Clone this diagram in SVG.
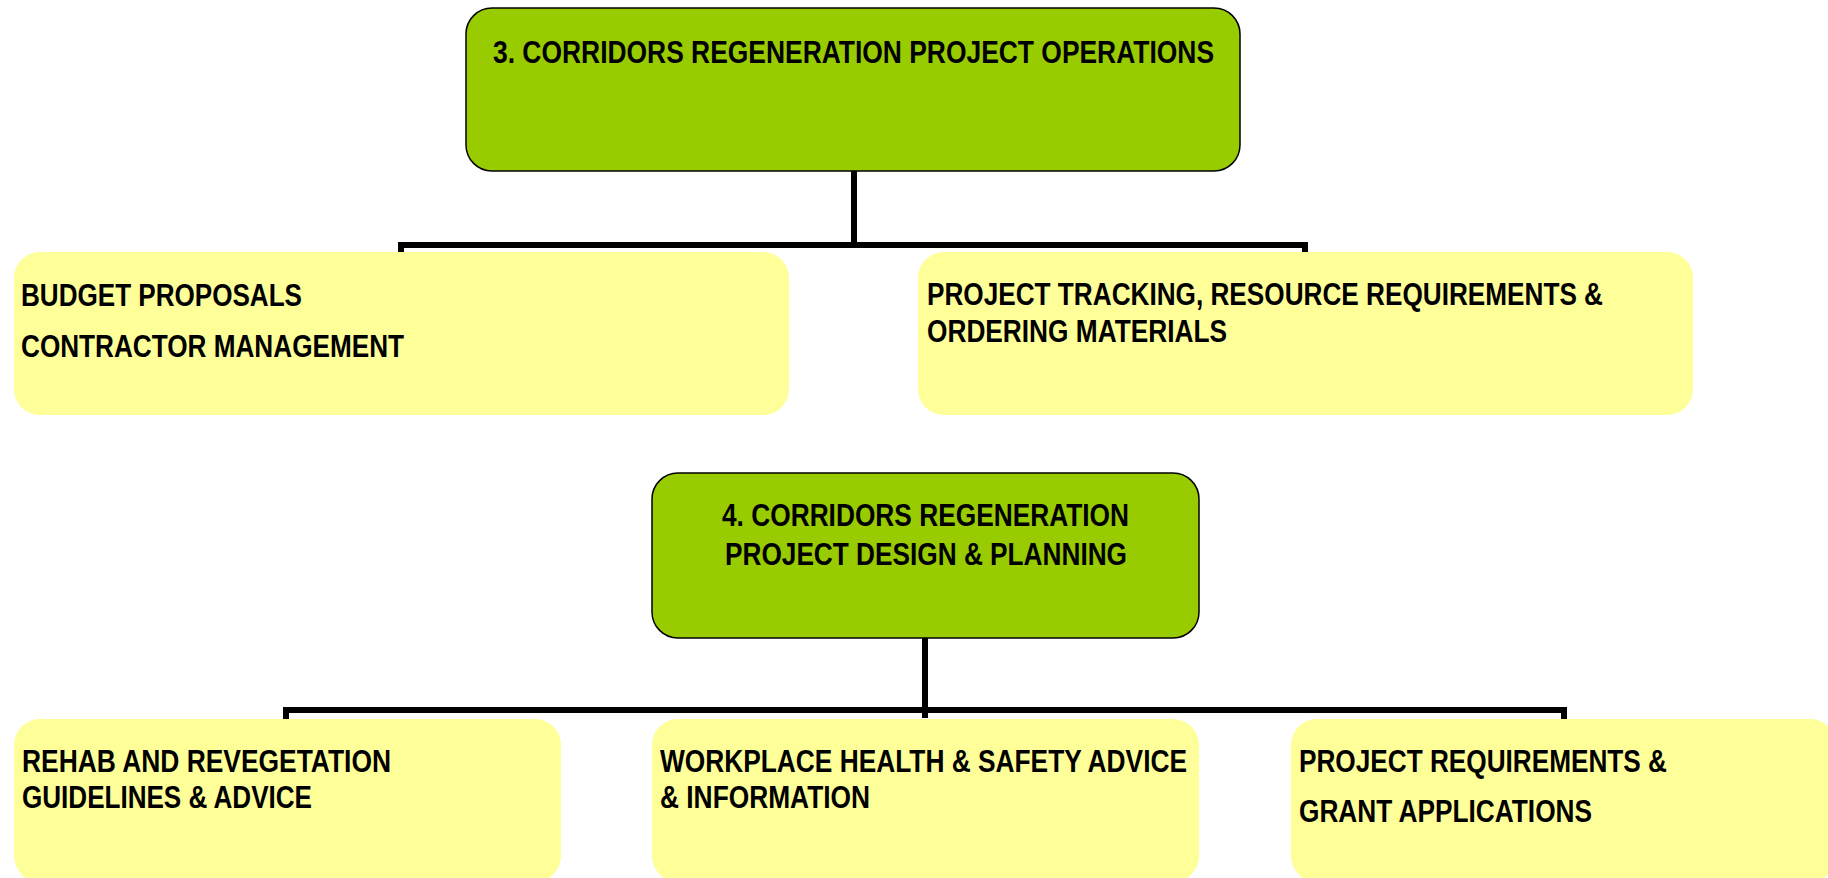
<svg xmlns="http://www.w3.org/2000/svg" width="1828" height="878" viewBox="0 0 1828 878">
<style>
.head{fill:#99CC00;stroke:#000;stroke-width:1.5}
.sub{fill:#FFFF99;stroke:none}
.t{font-family:"Liberation Sans Narrow","Liberation Sans",Arial,sans-serif;font-size:31px;font-weight:bold;fill:#000}
.c{fill:none;stroke:#000;stroke-width:6}
</style>
<rect width="1828" height="878" fill="#fff"/>
<g id="connectors">
<path class="c" d="M854 171 V245 M401 253 V245 H1305 V253"/>
<path class="c" d="M925 638 V718 M286 719 V710 H1564 V719"/>
</g>
<g id="n3">
<rect class="head" x="466" y="8" width="774" height="163" rx="26"/>
<text class="t" x="493" y="63" textLength="721" lengthAdjust="spacingAndGlyphs">3. CORRIDORS REGENERATION PROJECT OPERATIONS</text>
</g>
<g id="budget">
<rect class="sub" x="14" y="252" width="775" height="163" rx="26"/>
<text class="t" x="21" y="306" textLength="281" lengthAdjust="spacingAndGlyphs">BUDGET PROPOSALS</text>
<text class="t" x="21" y="357" textLength="383" lengthAdjust="spacingAndGlyphs">CONTRACTOR MANAGEMENT</text>
</g>
<g id="tracking">
<rect class="sub" x="918" y="252" width="775" height="163" rx="26"/>
<text class="t" x="927" y="305" textLength="676" lengthAdjust="spacingAndGlyphs">PROJECT TRACKING, RESOURCE REQUIREMENTS &amp;</text>
<text class="t" x="927" y="342" textLength="300" lengthAdjust="spacingAndGlyphs">ORDERING MATERIALS</text>
</g>
<g id="n4">
<rect class="head" x="652" y="473" width="547" height="165" rx="26"/>
<text class="t" x="722" y="526" textLength="407" lengthAdjust="spacingAndGlyphs">4. CORRIDORS REGENERATION</text>
<text class="t" x="725" y="565" textLength="402" lengthAdjust="spacingAndGlyphs">PROJECT DESIGN &amp; PLANNING</text>
</g>
<g id="rehab">
<rect class="sub" x="14" y="719" width="547" height="163" rx="26"/>
<text class="t" x="22" y="772" textLength="369" lengthAdjust="spacingAndGlyphs">REHAB AND REVEGETATION</text>
<text class="t" x="22" y="808" textLength="290" lengthAdjust="spacingAndGlyphs">GUIDELINES &amp; ADVICE</text>
</g>
<g id="whs">
<rect class="sub" x="652" y="719" width="547" height="163" rx="26"/>
<text class="t" x="660" y="772" textLength="527" lengthAdjust="spacingAndGlyphs">WORKPLACE HEALTH &amp; SAFETY ADVICE</text>
<text class="t" x="660" y="808" textLength="210" lengthAdjust="spacingAndGlyphs">&amp; INFORMATION</text>
</g>
<g id="grants">
<rect class="sub" x="1291" y="719" width="545" height="163" rx="26"/>
<text class="t" x="1299" y="772" textLength="368" lengthAdjust="spacingAndGlyphs">PROJECT REQUIREMENTS &amp;</text>
<text class="t" x="1299" y="822" textLength="293" lengthAdjust="spacingAndGlyphs">GRANT APPLICATIONS</text>
</g>
</svg>
